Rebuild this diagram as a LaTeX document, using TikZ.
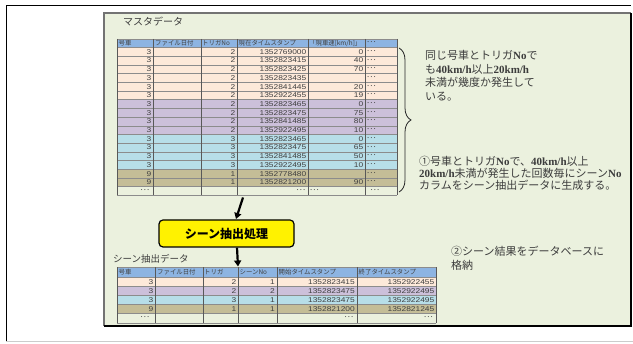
\documentclass[tikz,border=0pt]{standalone}
\usepackage{fontspec}
\newfontfamily\cjk{Noto Sans CJK JP}
\newfontfamily\latfont{Liberation Serif}
\newfontfamily\numfont[FakeStretch=1.2]{Liberation Sans}
\usetikzlibrary{arrows.meta,decorations.pathreplacing}
\definecolor{panelgreen}{RGB}{235,241,222}
\definecolor{tpeach}{RGB}{253,233,217}
\definecolor{tpurple}{RGB}{204,192,218}
\definecolor{tcyan}{RGB}{183,222,232}
\definecolor{tkhaki}{RGB}{196,189,151}
\definecolor{thead}{RGB}{141,180,226}
\definecolor{txtgray}{RGB}{60,60,60}
\newcommand\latb[1]{{\latfont\bfseries #1}}
\tikzset{
  cell/.style={font=\cjk\fontsize{6.4}{7}\selectfont, inner sep=0pt, text=black!75},
  ncell/.style={font=\numfont\fontsize{7}{8}\selectfont, inner sep=0pt, text=black!75},
  hline/.style={draw=black!45, line width=0.4pt},
  vline/.style={draw=black!65, line width=0.7pt},
  note/.style={font=\cjk\fontsize{11}{13}\selectfont, inner sep=0pt, text=txtgray, anchor=base west},
  title/.style={font=\cjk\fontsize{9.5}{11}\selectfont, inner sep=0pt, text=txtgray, anchor=base west},
  procbox/.style={draw=black, line width=1.2pt, fill=yellow, rounded corners=4pt,
     minimum width=135pt, minimum height=27pt, font=\cjk\bfseries\fontsize{12}{14}\selectfont},
  bigarrow/.style={line width=2.2pt, -{Triangle[length=6pt,width=7pt]}},
  bracestyle/.style={draw=black!85, line width=0.8pt, decorate, decoration={brace, amplitude=12pt, aspect=0.5}}
}
\begin{document}
\begin{tikzpicture}[x=1pt,y=-1pt]
\useasboundingbox (0,0) rectangle (633,344);
\fill[white] (0,0) rectangle (633,344);
% outer frame
\draw[black, line width=1pt] (6,341) -- (6,6) -- (631,6);
\draw[black!20, line width=1pt] (6,341.5) -- (633,341.5);
% panel
\fill[panelgreen] (104,13) rectangle (631,326);
\draw[black!55, line width=1.2pt] (104,326) -- (104,13) -- (631,13);
\draw[black, line width=1.2pt] (104,326) -- (631,326) -- (631,13);

\node[title, font=\cjk\fontsize{10}{12}\selectfont] (mtitle) at (123,25.5) {マスタデータ};

% ---------------- master table ----------------
\fill[thead] (117,39) rectangle (397,47.5);
\foreach \i/\a/\b/\t/\s/\c in {
 1/3/2/1352769000/0/tpeach,
 2/3/2/1352823415/40/tpeach,
 3/3/2/1352823425/70/tpeach,
 4/3/2/1352823435//tpeach,
 5/3/2/1352841445/20/tpeach,
 6/3/2/1352922455/19/tpeach,
 7/3/2/1352823465/0/tpurple,
 8/3/2/1352823475/75/tpurple,
 9/3/2/1352841485/80/tpurple,
 10/3/2/1352922495/10/tpurple,
 11/3/3/1352823465/0/tcyan,
 12/3/3/1352823475/65/tcyan,
 13/3/3/1352841485/50/tcyan,
 14/3/3/1352922495/10/tcyan,
 15/9/1/1352778480//tkhaki,
 16/9/1/1352821200/90/tkhaki}{
  \pgfmathsetmacro\yt{47.5+(\i-1)*8.7}
  \pgfmathsetmacro\ym{\yt+4.35}
  \fill[\c] (117,\yt) rectangle (397,\yt+8.7);
  \node[ncell,anchor=east] (ma\i) at (151.5,\ym) {\a};
  \node[ncell,anchor=east] (mb\i) at (235.5,\ym) {\b};
  \node[ncell,anchor=east] (mt\i) at (306.5,\ym) {\t};
  \node[ncell,anchor=east] (ms\i) at (363.5,\ym) {\s};
  \node[cell,anchor=west] (md\i) at (366.5,\ym) {･･･};
}
% last white row
\node[cell,anchor=east] (ma17) at (150,191.05) {･･･};
\node[cell,anchor=east] (mt17) at (306,191.05) {･･･};
\node[cell,anchor=west] (ms17) at (309.5,191.05) {･･･};
\node[cell,anchor=west] (md17) at (370,191.05) {･･･};
% header texts
\node[cell,anchor=west] (mh1) at (118.5,43.25) {号車};
\node[cell,anchor=west] (mh2) at (155,43.25) {ファイル日付};
\node[cell,anchor=west] (mh3) at (202,43.25) {トリガNo};
\node[cell,anchor=west] (mh4) at (238.5,43.25) {現在タイムスタンプ};
\node[cell,anchor=west] (mh5) at (309,43.25) {「現車速[km/h]」};
\node[cell,anchor=west] (mh6) at (366.5,43.25) {･･･};
% grid
\draw[hline] (117,39) -- (397,39);
\foreach \k in {0,...,17} \draw[hline] (117,47.5+\k*8.7) -- (397,47.5+\k*8.7);
\foreach \x in {117,153,201,237,308,365,397} \draw[vline] (\x,39) -- (\x,195.4);

% brace
\draw[bracestyle] (399,48) -- (399,192);

% notes
\node[note] (n1a) at (425,60) {同じ号車とトリガ\latb{No}で};
\node[note] (n1b) at (425,73.5) {も\latb{40km/h}以上\latb{20km/h}};
\node[note] (n1c) at (425,87) {未満が幾度か発生して};
\node[note] (n1d) at (425,100.5) {いる。};

\node[note] (n2a) at (419,166) {①号車とトリガ\latb{No}で、\latb{40km/h}以上};
\node[note] (n2b) at (419,177.7) {\latb{20km/h}未満が発生した回数毎にシーン\latb{No}};
\node[note] (n2c) at (419,189.4) {カラムをシーン抽出データに生成する。};

\node[note] (n3a) at (451,255.5) {②シーン結果をデータベースに};
\node[note] (n3b) at (451,269.5) {格納};

% process box and arrows
\node[procbox] (proc) at (226.5,233.5) {シーン抽出処理};
\coordinate (a1s) at (243,197.5);
\coordinate (a1e) at (236,219);
\coordinate (t2top) at (238,266.5);
\draw[bigarrow] (a1s) -- (a1e);
\draw[bigarrow] ([xshift=10.5pt]proc.south) -- (t2top);

% ---------------- scene table ----------------
\node[title] (stitle) at (113,262.6) {シーン抽出データ};
\fill[thead] (117,267.3) rectangle (436,277.3);
\foreach \i/\a/\b/\n/\s/\e/\c in {
 1/3/2/1/1352823415/1352922455/tpeach,
 2/3/2/2/1352823475/1352922495/tpurple,
 3/3/3/1/1352823475/1352922495/tcyan,
 4/9/1/1/1352821200/1352821245/tkhaki}{
  \pgfmathsetmacro\yt{277.3+(\i-1)*9.1}
  \pgfmathsetmacro\ym{\yt+4.55}
  \fill[\c] (117,\yt) rectangle (436,\yt+9.1);
  \node[ncell,anchor=east] (sa\i) at (153.5,\ym) {\a};
  \node[ncell,anchor=east] (sb\i) at (236.5,\ym) {\b};
  \node[ncell,anchor=east] (sn\i) at (275,\ym) {\n};
  \node[ncell,anchor=east] (ss\i) at (355,\ym) {\s};
  \node[ncell,anchor=east] (se\i) at (434.5,\ym) {\e};
}
\node[cell,anchor=east] (sa5) at (150,318.35) {･･･};
\node[cell,anchor=east] (ss5) at (354,318.35) {･･･};
\node[cell,anchor=east] (se5) at (433.5,318.35) {･･･};
\node[cell,anchor=west] (sh1) at (118.5,272.3) {号車};
\node[cell,anchor=west] (sh2) at (157,272.3) {ファイル日付};
\node[cell,anchor=west] (sh3) at (204,272.3) {トリガ};
\node[cell,anchor=west] (sh4) at (239.5,272.3) {シーンNo};
\node[cell,anchor=west] (sh5) at (278.5,272.3) {開始タイムスタンプ};
\node[cell,anchor=west] (sh6) at (358.5,272.3) {終了タイムスタンプ};
\draw[hline] (117,267.3) -- (436,267.3);
\foreach \k in {0,...,5} \draw[hline] (117,277.3+\k*9.1) -- (436,277.3+\k*9.1);
\foreach \x in {117,155,203,238,277,357,436} \draw[vline] (\x,267.3) -- (\x,322.8);
\end{tikzpicture}
\end{document}
